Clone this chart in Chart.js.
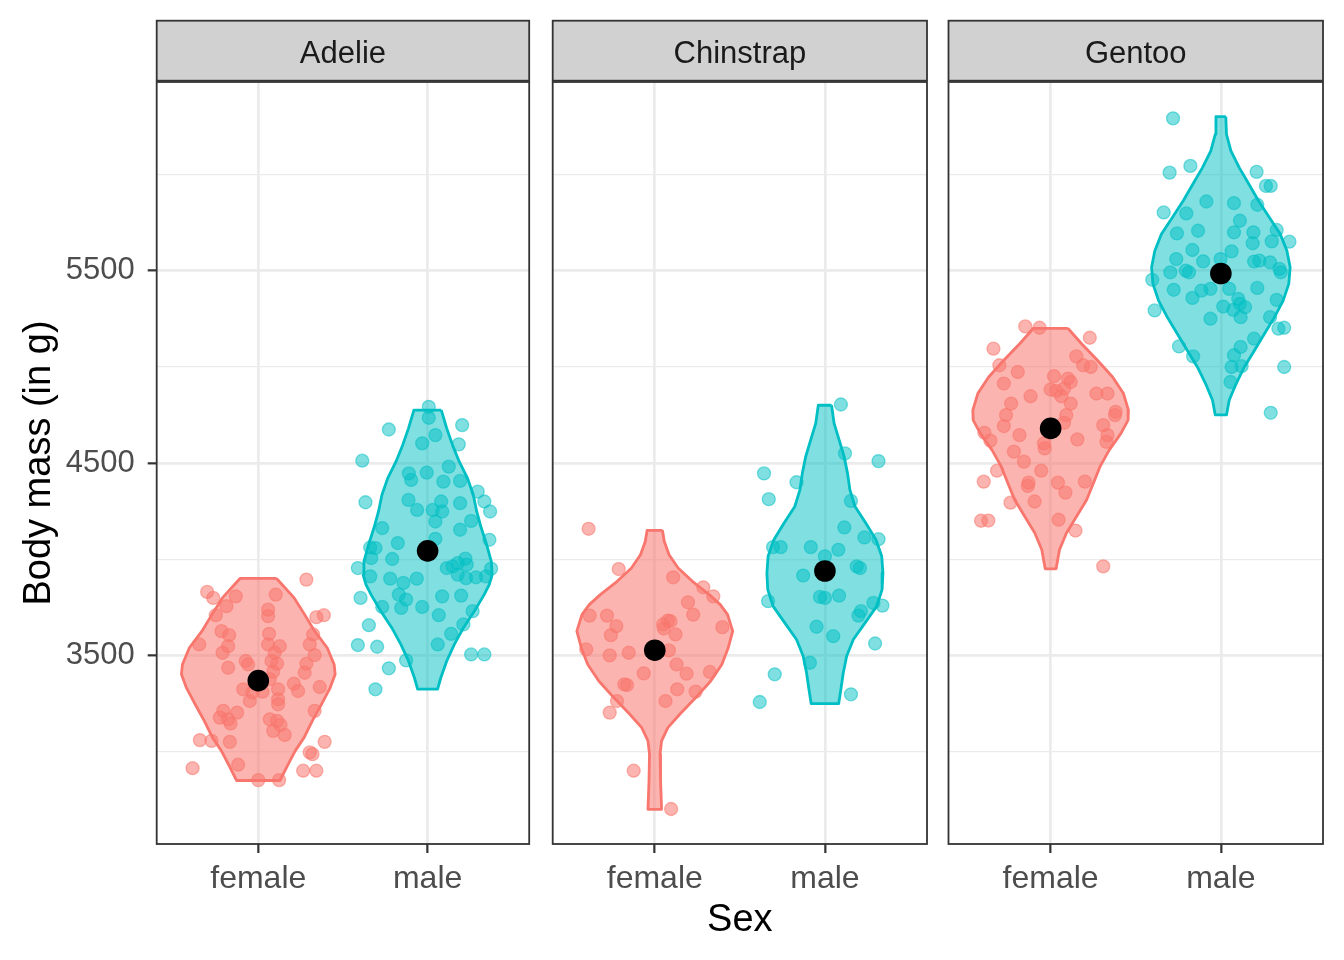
<!DOCTYPE html>
<html>
<head>
<meta charset="utf-8">
<script src="https://cdn.jsdelivr.net/npm/chart.js@4.4.1/dist/chart.umd.min.js"></script>
<style>
html,body{margin:0;padding:0;background:#ffffff;}
#wrap{position:relative;width:1344px;height:960px;overflow:hidden;background:#ffffff;}
#wrap canvas{position:absolute;top:0;}
</style>
</head>
<body>
<div id="wrap">
<canvas id="c0" width="540" height="960" style="left:0px"></canvas>
<canvas id="c1" width="400" height="960" style="left:540px"></canvas>
<canvas id="c2" width="408" height="960" style="left:936px"></canvas>
</div>
<script>
// ---------------- data ----------------
const species = ['Adelie', 'Chinstrap', 'Gentoo'];
const sexLabels = ['female', 'male'];
const yMajorTicks = [3500, 4500, 5500];
const yMinorTicks = [3000, 4000, 5000, 6000];
const meanFemale = [3368.8, 3527.2, 4679.7];
const meanMale = [4043.5, 3938.8, 5484.8];

// jittered observations (body mass in g, horizontal jitter in category units)
const adelieFemaleMass = [3894,3830,3799,3807,3816,3756,3738,3704,3709,3699,3709,3626,3605,3612,3609,3557,3548,3514,3557,3548,3557,3471,3514,3471,3457,3502,3457,3436,3453,3415,3410,3376,3324,3307,3324,3353,3315,3336,3312,3263,3272,3246,3212,3177,3168,3203,3146,3168,3160,3139,3108,3087,3212,3060,3056,3051,3051,2996,2987,2914,2932,2901,2901,2852,2852];
const adelieFemaleJitter = [0.284,-0.302,-0.266,-0.133,0.103,-0.188,0.058,0.058,-0.251,0.343,0.387,-0.217,-0.172,0.064,0.324,-0.349,-0.178,-0.211,0.058,0.127,0.304,-0.074,0.097,0.078,0.111,0.333,0.284,-0.178,-0.060,0.088,0.274,0.068,-0.089,-0.034,0.117,0.210,0.235,0.363,0.025,-0.050,0.117,0.117,-0.207,-0.227,-0.178,-0.125,-0.164,0.068,0.111,0.131,0.088,0.156,0.333,-0.345,-0.276,-0.168,0.392,0.304,0.320,-0.388,-0.119,0.265,0.343,0.000,0.123];
const adelieMaleMass = [4792,4735,4674,4697,4645,4602,4597,4512,4446,4412,4450,4481,4403,4407,4296,4308,4256,4300,4256,4248,4291,4351,4300,4248,4196,4162,4199,4153,4101,4106,4061,4058,4084,4006,4001,3954,3911,3954,3963,3980,4003,3972,3920,3902,3906,3911,3951,3899,3877,3899,3816,3790,3747,3752,3752,3807,3811,3799,3709,3730,3661,3612,3657,3554,3545,3557,3474,3433,3324,3505,3505];
const adelieMaleJitter = [0.007,0.007,-0.229,0.204,0.046,-0.032,0.184,-0.386,-0.111,-0.097,-0.005,0.125,0.093,0.192,-0.367,-0.113,-0.062,0.080,0.030,0.086,0.192,0.296,0.335,0.369,0.046,-0.268,0.257,0.192,0.365,0.046,-0.339,-0.308,-0.176,-0.333,-0.209,-0.412,-0.339,0.113,0.148,0.178,0.223,0.231,0.178,0.227,0.286,0.345,0.375,-0.221,-0.143,-0.064,-0.170,-0.127,-0.156,-0.268,-0.032,0.086,0.198,-0.396,0.066,0.266,0.211,0.139,-0.347,-0.412,-0.298,0.060,-0.127,-0.229,-0.308,0.257,0.335];
const chinstrapFemaleMass = [4158,3949,3906,3854,3807,3776,3712,3707,3707,3652,3605,3661,3681,3678,3647,3609,3640,3531,3500,3514,3526,3453,3405,3414,3407,3350,3346,3324,3312,3263,3263,3203,2901,2702];
const chinstrapFemaleJitter = [-0.389,-0.212,0.108,0.285,0.344,0.195,0.226,-0.383,-0.281,-0.226,-0.258,0.049,0.077,0.092,0.397,0.122,0.053,-0.403,-0.265,-0.153,0.083,0.128,0.187,0.324,-0.065,-0.179,-0.163,0.132,0.240,0.063,-0.222,-0.265,-0.124,0.096];
const chinstrapMaleMass = [4804,4550,4510,4446,4400,4312,4303,4165,4113,4104,4063,4063,4063,4049,4015,3963,3954,3915,3804,3799,3811,3782,3773,3759,3730,3707,3649,3600,3562,3462,3402,3258,3298];
const chinstrapMaleJitter = [0.094,0.118,0.315,-0.358,-0.167,-0.330,0.153,0.114,0.232,0.315,-0.305,-0.260,-0.083,0.079,0,0.187,0.206,-0.128,-0.029,0,0.083,-0.334,0.285,0.338,0.212,0.197,-0.049,0.049,0.295,-0.088,-0.295,-0.383,0.153];
const gentooFemaleMass = [5210,5203,5094,5151,5008,4973,5054,5008,4999,4913,4951,4939,4921,4882,4875,4887,4847,4847,4861,4861,4809,4809,4749,4749,4766,4749,4692,4709,4697,4645,4657,4616,4623,4645,4610,4602,4576,4559,4507,4460,4460,4403,4398,4381,4398,4403,4346,4294,4300,4200,4201,4205,4149,3963];
const gentooFemaleJitter = [-0.149,-0.065,-0.336,0.230,-0.301,-0.193,0.151,0.191,0.236,-0.275,0.020,0.102,0.118,0,0.033,0.079,0.063,-0.118,0.269,0.334,-0.232,0.118,-0.262,0.092,0.382,0.378,-0.275,0.079,0.309,-0.183,-0.389,-0.354,0.157,0.334,0.328,-0.039,-0.035,-0.216,-0.157,-0.315,-0.055,-0.393,-0.130,-0.134,0.043,0.201,0.087,-0.236,-0.094,-0.409,-0.366,0.047,0.146,0.309];
const gentooMaleMass = [6291,6044,6009,6013,5940,5940,5802,5797,5859,5851,5842,5759,5693,5707,5699,5699,5642,5652,5711,5650,5607,5560,5600,5548,5560,5547,5552,5543,5509,5491,5491,5500,5491,5452,5400,5358,5396,5405,5405,5410,5348,5293,5313,5353,5327,5310,5296,5258,5250,5258,5198,5203,5146,5103,5106,5054,5060,4999,5003,4921,4999,4761];
const gentooMaleJitter = [-0.281,-0.179,-0.301,0.210,0.265,0.293,-0.336,-0.203,-0.085,0.077,0.214,0.112,-0.258,-0.134,0.077,0.191,0.187,0.299,0.328,0.403,-0.167,-0.262,0.063,-0.104,-0.002,0.195,0.226,0.289,0.344,0.352,-0.297,-0.206,-0.187,-0.403,-0.277,-0.167,-0.114,-0.061,0.049,0.214,0.328,-0.389,0.014,0.102,0.112,0.142,0.073,0.116,-0.061,0.289,0.338,0.372,0.195,0.116,-0.246,-0.163,0.077,0.063,0.122,0.057,0.372,0.293];

// violin profiles: mass levels (top to bottom) and half-widths in category units
const adelieFemaleViolinMass = [3900,3799,3712,3626,3540,3453,3402,3333,3246,3160,3074,3004,2935,2850];
const adelieFemaleViolinWidth = [0.108,0.212,0.274,0.333,0.407,0.448,0.454,0.425,0.373,0.319,0.271,0.218,0.177,0.128];
const adelieMaleViolinMass = [4775,4680,4594,4507,4420,4334,4248,4162,4075,3989,3920,3868,3816,3730,3643,3557,3471,3384,3325];
const adelieMaleViolinWidth = [0.081,0.113,0.147,0.187,0.236,0.270,0.290,0.317,0.349,0.376,0.381,0.364,0.334,0.276,0.211,0.158,0.113,0.078,0.059];
const chinstrapFemaleViolinMass = [4150,4092,4023,3954,3885,3816,3764,3712,3626,3540,3453,3367,3281,3194,3125,3056,2987,2849,2700];
const chinstrapFemaleViolinWidth = [0.045,0.056,0.084,0.137,0.221,0.320,0.385,0.428,0.458,0.432,0.394,0.329,0.241,0.147,0.077,0.040,0.031,0.034,0.040];
const chinstrapMaleViolinMass = [4800,4706,4619,4533,4446,4360,4274,4187,4101,4015,3928,3842,3756,3669,3583,3497,3410,3324,3250];
const chinstrapMaleViolinWidth = [0.039,0.054,0.084,0.113,0.133,0.147,0.177,0.241,0.300,0.334,0.341,0.336,0.305,0.236,0.167,0.128,0.108,0.094,0.081];
const gentooFemaleViolinMass = [5200,5120,5034,4947,4861,4775,4723,4654,4567,4481,4395,4308,4222,4136,4049,3950];
const gentooFemaleViolinWidth = [0.101,0.182,0.275,0.364,0.428,0.457,0.455,0.413,0.344,0.290,0.251,0.211,0.152,0.093,0.052,0.032];
const gentooMaleViolinMass = [6300,6208,6122,6035,5949,5863,5776,5690,5603,5517,5431,5344,5258,5172,5085,4999,4913,4826,4750];
const gentooMaleViolinWidth = [0.029,0.033,0.059,0.108,0.165,0.221,0.285,0.349,0.388,0.407,0.399,0.366,0.315,0.256,0.197,0.138,0.090,0.049,0.033];

// ---------------- build ----------------
const panels = [
  { female: [adelieFemaleMass, adelieFemaleJitter, adelieFemaleViolinMass, adelieFemaleViolinWidth],
    male:   [adelieMaleMass, adelieMaleJitter, adelieMaleViolinMass, adelieMaleViolinWidth] },
  { female: [chinstrapFemaleMass, chinstrapFemaleJitter, chinstrapFemaleViolinMass, chinstrapFemaleViolinWidth],
    male:   [chinstrapMaleMass, chinstrapMaleJitter, chinstrapMaleViolinMass, chinstrapMaleViolinWidth] },
  { female: [gentooFemaleMass, gentooFemaleJitter, gentooFemaleViolinMass, gentooFemaleViolinWidth],
    male:   [gentooMaleMass, gentooMaleJitter, gentooMaleViolinMass, gentooMaleViolinWidth] }
];

const FONT = '"Liberation Sans", Arial, Helvetica, sans-serif';
Chart.defaults.font.family = FONT;

const COLORS = {
  female: { line: '#F8766D', fill: 'rgba(248,118,109,0.55)', pt: 'rgba(248,118,109,0.55)' },
  male:   { line: '#00BFC4', fill: 'rgba(0,191,196,0.5)',   pt: 'rgba(0,191,196,0.5)' }
};

function violinPolygon(center, masses, widths) {
  const right = masses.map((m, k) => ({ x: center + widths[k], y: m }));
  const left = masses.map((m, k) => ({ x: center - widths[k], y: m })).reverse();
  const pts = right.concat(left);
  pts.push(pts[0]);
  return pts;
}
function jitterPoints(center, masses, jit) {
  return masses.map((m, k) => ({ x: center + jit[k], y: m }));
}

const facetPlugin = {
  id: 'facetDecor',
  beforeDraw(chart, args, opts) {
    const { ctx, chartArea: a } = chart;
    ctx.save();
    ctx.fillStyle = '#D1D1D1';
    ctx.fillRect(a.left, 20.7, a.right - a.left, 60);
    ctx.strokeStyle = '#333333';
    ctx.lineWidth = 1.8;
    ctx.strokeRect(a.left, 20.7, a.right - a.left, 60);
    ctx.fillStyle = '#1A1A1A';
    ctx.font = '31px ' + FONT;
    ctx.textAlign = 'center';
    ctx.textBaseline = 'middle';
    ctx.fillText(opts.label, (a.left + a.right) / 2, 54);
    ctx.restore();
  },
  afterDraw(chart) {
    const { ctx, chartArea: a } = chart;
    ctx.save();
    ctx.strokeStyle = '#333333';
    ctx.lineWidth = 1.8;
    ctx.strokeRect(a.left, a.top, a.right - a.left, a.bottom - a.top);
    ctx.restore();
  }
};

const layoutPad = [
  { left: 0, right: 8.5, top: 82, bottom: 0 },
  { left: 12.7, right: 13, top: 82, bottom: 0 },
  { left: 12.5, right: 21, top: 82, bottom: 0 }
];
const yAxisWidth = [156.7, 0, 0];

function isMajor(v) { return yMajorTicks.indexOf(v) >= 0; }

panels.forEach((p, i) => {
  const datasets = [];
  datasets.push({
    type: 'scatter', order: 0,
    data: [{ x: 1, y: meanFemale[i] }, { x: 2, y: meanMale[i] }],
    pointRadius: 10.8, pointBackgroundColor: '#000000', pointBorderWidth: 0, pointHoverRadius: 10.8
  });
  ['female', 'male'].forEach((sex, s) => {
    const [mass, jit] = p[sex];
    datasets.push({
      type: 'scatter', order: 1,
      data: jitterPoints(s + 1, mass, jit),
      pointRadius: 6.5, pointBackgroundColor: COLORS[sex].pt,
      pointBorderColor: COLORS[sex].pt, pointBorderWidth: 1.3
    });
  });
  ['female', 'male'].forEach((sex, s) => {
    const [, , vm, vw] = p[sex];
    datasets.push({
      type: 'line', order: 2,
      data: violinPolygon(s + 1, vm, vw),
      borderColor: COLORS[sex].line, borderWidth: 2.8,
      backgroundColor: COLORS[sex].fill, fill: 'shape',
      pointRadius: 0, tension: 0, borderJoinStyle: 'round'
    });
  });

  new Chart(document.getElementById('c' + i), {
    type: 'scatter',
    data: { datasets },
    plugins: [facetPlugin],
    options: {
      responsive: false, animation: false, events: [],
      layout: { padding: layoutPad[i] },
      plugins: {
        legend: { display: false }, tooltip: { enabled: false },
        facetDecor: { label: species[i] }
      },
      scales: {
        x: {
          type: 'linear', min: 0.4, max: 2.6,
          afterBuildTicks: sc => { sc.ticks = sexLabels.map((_, k) => ({ value: k + 1 })); },
          afterFit: sc => { sc.height = 116; },
          ticks: {
            callback: v => sexLabels[Math.round(v) - 1] || '',
            color: '#4D4D4D', font: { size: 32 }, padding: 7,
            maxRotation: 0, autoSkip: false
          },
          grid: { color: '#EBEBEB', lineWidth: 2.7, tickLength: 9, tickColor: '#333333', tickWidth: 2.2 },
          border: { display: false },
          title: {
            display: i === 1, text: 'Sex', color: '#000000',
            font: { size: 38 }, padding: { top: 0, bottom: 17 }
          }
        },
        y: {
          type: 'linear', min: 2520, max: 6480,
          afterBuildTicks: sc => {
            sc.ticks = yMinorTicks.concat(yMajorTicks).sort((a, b) => a - b).map(v => ({ value: v }));
          },
          afterFit: sc => { sc.width = yAxisWidth[i]; },
          ticks: {
            display: i === 0,
            callback: v => isMajor(v) ? String(v) : '',
            color: '#4D4D4D', font: { size: 31 }, padding: 13, autoSkip: false
          },
          grid: {
            color: '#EBEBEB',
            lineWidth: c => (c.tick && isMajor(c.tick.value)) ? 2.7 : 1.35,
            drawTicks: i === 0, tickLength: 9,
            tickColor: c => (c.tick && isMajor(c.tick.value)) ? '#333333' : 'rgba(0,0,0,0)',
            tickWidth: 2.2
          },
          border: { display: false },
          title: {
            display: i === 0, text: 'Body mass (in g)', color: '#000000',
            font: { size: 38 }, padding: { top: 17, bottom: 0 }
          }
        }
      }
    }
  });
});
</script>
</body>
</html>
